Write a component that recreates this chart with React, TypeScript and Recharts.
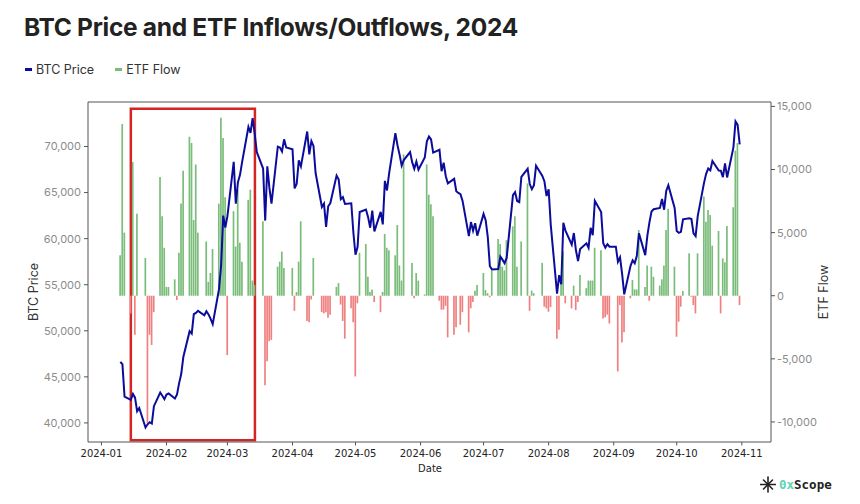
import React from 'react';
import {
  ComposedChart,
  Bar,
  Line,
  XAxis,
  YAxis,
  Cell,
  ReferenceArea,
  ReferenceLine,
} from 'recharts';

// each row: [day of month, BTC close, ETF net flow]
type Row = [number, number, number];

const jan: Row[] = [
  [10, 46630, 3200], [11, 46370, 13600], [12, 42850, 5000],
  [15, 42510, -1400], [16, 43150, 10600], [17, 42740, -3100], [18, 41260, 6500], [19, 41620, 0],
  [22, 39510, 3000], [23, 39850, -10100], [24, 40080, -3100], [25, 39930, -3900], [26, 41820, -1300],
  [29, 43300, 9400], [30, 42950, 6300], [31, 42580, 3800],
];
const feb: Row[] = [
  [1, 43080, 700], [2, 43190, 700],
  [5, 42660, 1300], [6, 43090, -340], [7, 44320, 3400], [8, 45300, 7300], [9, 47150, 9900],
  [12, 49960, 12600], [13, 49700, 12100], [14, 51810, 6000], [15, 51940, 10400], [16, 52160, 5000],
  [19, 51680, 0], [20, 52120, 4300], [21, 51780, 1100], [22, 51300, 1800], [23, 50730, 3700],
  [26, 54520, 7300], [27, 57090, 14100], [28, 62500, 12500], [29, 61200, 7800],
];
const mar: Row[] = [
  [1, 62440, -4700],
  [4, 68330, 6700], [5, 63800, 3900], [6, 66110, 8400], [7, 66930, 4200], [8, 68300, 2700],
  [11, 72120, 7600], [12, 71480, 8400], [13, 73080, 1200], [14, 71400, 850], [15, 69400, 0],
  [18, 67610, 5900], [19, 61960, -7100], [20, 67850, -5200], [21, 65500, -3600], [22, 63800, -3500],
  [25, 69990, 2300], [26, 69900, 2700], [27, 69460, 3500], [28, 70780, 2200], [29, 69890, 0],
];
const apr: Row[] = [
  [1, 69700, 2200], [2, 65460, -1200], [3, 65960, 300], [4, 68500, 2700], [5, 67840, 5900],
  [8, 71630, -2000], [9, 69140, -2100], [10, 70590, -300], [11, 70060, 3000], [12, 67120, 0],
  [15, 63430, -1300], [16, 63810, -1400], [17, 61280, -1300], [18, 63510, -1750], [19, 63840, -1500],
  [22, 66840, 700], [23, 66410, 1000], [24, 64280, -700], [25, 64500, -2000], [26, 63770, -3400],
  [29, 63840, -1000], [30, 60640, -2100],
];
const may: Row[] = [
  [1, 58250, -6400], [2, 59120, -600], [3, 62890, 3400],
  [6, 63160, 4100], [7, 62330, 1500], [8, 61190, 300], [9, 63050, 500], [10, 60790, -500],
  [13, 62900, -1300], [14, 61550, 300], [15, 66270, 4900], [16, 65230, 3800], [17, 67050, 3600],
  [20, 71450, 3200], [21, 70140, 5600], [22, 69120, 2400], [23, 67930, 1200], [24, 68530, 11200],
  [27, 69390, 0], [28, 68300, 2600], [29, 67580, -200], [30, 68360, 1800], [31, 67490, 1200],
];
const jun: Row[] = [
  [3, 68800, 100], [4, 70570, 10400], [5, 71080, 8000], [6, 70760, 7250], [7, 69340, 6300],
  [10, 69650, -400], [11, 67320, -1100], [12, 68240, -1100], [13, 66770, -800], [14, 66010, -3300],
  [17, 66490, -3100], [18, 65140, -2500], [19, 64960, 0], [20, 64830, -2300], [21, 64100, -1300],
  [24, 60280, -2900], [25, 61800, -1000], [26, 60860, -500], [27, 61670, 400], [28, 60320, 850],
];
const jul: Row[] = [
  [1, 62680, 1800], [2, 62000, 450], [3, 60200, 200], [4, 57000, -130], [5, 56660, 2000],
  [8, 56700, 4500], [9, 58050, 4100], [10, 57720, 2300], [11, 57340, 2000], [12, 57900, 4400],
  [15, 64720, 5500], [16, 65040, 6300], [17, 64090, 2300], [18, 63970, 0], [19, 66710, 4300],
  [22, 67580, 8900], [23, 65930, -1200], [24, 65370, 400], [25, 65800, 200], [26, 67910, 0],
  [29, 66810, 2600], [30, 66200, -870], [31, 64620, -1000],
];
const aug: Row[] = [
  [1, 65360, -1270], [2, 61500, -900],
  [5, 54020, -3400], [6, 56030, -2700], [7, 55030, 850], [8, 61710, 3500], [9, 60880, -600],
  [12, 59350, -1000], [13, 60610, 800], [14, 58740, -1140], [15, 57560, -500], [16, 58870, 1640],
  [19, 59490, 600], [20, 59010, 1200], [21, 61180, 1200], [22, 60380, 1200], [23, 64100, 3800],
  [26, 62880, 3600], [27, 59500, -1800], [28, 59030, -1700], [29, 59390, -1500], [30, 59120, -2200],
];
const sep: Row[] = [
  [2, 59130, 0], [3, 57480, -6000], [4, 57970, -750], [5, 56160, -3700], [6, 53950, -2900],
  [9, 57050, -200], [10, 57650, 1240], [11, 57340, 500], [12, 58130, 500], [13, 60570, 5200],
  [16, 58210, 700], [17, 60310, 2400], [18, 61760, -400], [19, 62950, 2300], [20, 63190, 1500],
  [23, 63330, 800], [24, 64300, 1300], [25, 63140, 2400], [26, 65180, 5200], [27, 65790, 6900],
  [30, 63330, 2300],
];
const oct: Row[] = [
  [1, 60840, -3250], [2, 60630, -2060], [3, 60750, -870], [4, 62090, 370],
  [7, 62220, 3360], [8, 62130, -80], [9, 60580, -740], [10, 60270, -1400], [11, 62450, 3360],
  [14, 66050, 7860], [15, 67040, 5870], [16, 67610, 6800], [17, 67400, 6400], [18, 68420, 3970],
  [21, 67380, 5130], [22, 67370, -1400], [23, 66680, 2960], [24, 68160, 2650], [25, 66640, 5530],
  [28, 69910, 7010], [29, 72720, 11500], [30, 72340, 12100], [31, 70220, -740],
];

const months = [jan, feb, mar, apr, may, jun, jul, aug, sep, oct];

const monthTicks = [0, 31, 60, 91, 121, 152, 182, 213, 244, 274, 305];
const monthLabels = [
  '2024-01', '2024-02', '2024-03', '2024-04', '2024-05', '2024-06',
  '2024-07', '2024-08', '2024-09', '2024-10', '2024-11',
];
const priceTicks = [40000, 45000, 50000, 55000, 60000, 65000, 70000];
const flowTicks = [-10000, -5000, 0, 5000, 10000, 15000];

// highlighted window (Jan 15 – Mar 14)
const boxStart: [number, number] = [0, 15];
const boxEnd: [number, number] = [2, 14];
const boxPrice = [38120, 74100];

const PRICE_DOMAIN = [37930, 74830];
const FLOW_DOMAIN = [-11590, 15350];
const X_DOMAIN = [-6.4, 318.9];

const DAY = 86400000;
const dayIndex = (m: number, d: number) => (Date.UTC(2024, m, d) - Date.UTC(2024, 0, 1)) / DAY;

const data = months.flatMap((rows, m) =>
  rows.map(([d, price, flow]) => ({ x: dayIndex(m, d), price, flow }))
);

const GREEN = '#7abd7a';
const RED = '#f08080';
const BLUE = '#0c0c9c';
const AXIS = '#555';
const SANS = 'Inter, "Open Sans", sans-serif';

const fmt = (v: number) => v.toLocaleString('en-US');

export default function App() {
  return (
    <div
      style={{
        position: 'absolute',
        left: 0,
        top: 0,
        width: 860,
        height: 504,
        background: '#fff',
        fontFamily: SANS,
        overflow: 'hidden',
      }}
    >
      <div
        style={{
          position: 'absolute',
          left: 24,
          top: 12,
          fontSize: 24.5,
          fontWeight: 700,
          color: '#222',
          letterSpacing: -0.3,
          whiteSpace: 'nowrap',
        }}
      >
        BTC Price and ETF Inflows/Outflows, 2024
      </div>

      <div
        style={{
          position: 'absolute',
          left: 25,
          top: 62,
          display: 'flex',
          alignItems: 'center',
          fontSize: 12.5,
          color: '#333',
        }}
      >
        <span style={{ width: 7, height: 3, background: BLUE, marginRight: 4 }} />
        <span>BTC Price</span>
        <span style={{ width: 7, height: 3, background: GREEN, marginLeft: 21, marginRight: 4 }} />
        <span>ETF Flow</span>
      </div>

      <div
        style={{
          position: 'absolute',
          left: 33,
          top: 292,
          transform: 'translate(-50%, -50%) rotate(-90deg)',
          fontSize: 12.5,
          color: '#333',
          whiteSpace: 'nowrap',
        }}
      >
        BTC Price
      </div>
      <div
        style={{
          position: 'absolute',
          left: 823,
          top: 292,
          transform: 'translate(-50%, -50%) rotate(-90deg)',
          fontSize: 12.5,
          color: '#333',
          whiteSpace: 'nowrap',
        }}
      >
        ETF Flow
      </div>
      <div
        style={{
          position: 'absolute',
          left: 430,
          top: 468,
          transform: 'translate(-50%, -50%)',
          fontSize: 10,
          fontFamily: '"DejaVu Sans", sans-serif',
          color: '#222',
        }}
      >
        Date
      </div>

      <ComposedChart
        width={860}
        height={504}
        data={data}
        margin={{ top: 102, right: 29, bottom: 32, left: 30 }}
      >
        <XAxis
          type="number"
          dataKey="x"
          domain={X_DOMAIN}
          allowDataOverflow
          ticks={monthTicks}
          interval={0}
          tickFormatter={(v) => monthLabels[monthTicks.indexOf(v)]}
          height={30}
          tickSize={3.5}
          tickMargin={4.5}
          tick={{ fill: '#222', fontSize: 10, fontFamily: '"DejaVu Sans", sans-serif' }}
          tickLine={{ stroke: AXIS }}
          axisLine={{ stroke: AXIS }}
        />
        <YAxis
          yAxisId="left"
          domain={PRICE_DOMAIN}
          allowDataOverflow
          ticks={priceTicks}
          interval={0}
          tickFormatter={fmt}
          width={58}
          tickSize={4}
          tickMargin={3}
          tick={{ fill: '#8c8c8c', fontSize: 11, fontFamily: SANS }}
          tickLine={{ stroke: AXIS }}
          axisLine={{ stroke: AXIS }}
        />
        <YAxis
          yAxisId="right"
          orientation="right"
          domain={FLOW_DOMAIN}
          allowDataOverflow
          ticks={flowTicks}
          interval={0}
          tickFormatter={fmt}
          width={60}
          tickSize={4}
          tickMargin={2}
          tick={{ fill: '#8c8c8c', fontSize: 11, fontFamily: SANS }}
          tickLine={{ stroke: AXIS }}
          axisLine={{ stroke: AXIS }}
        />
        {/* top edge of the axes frame */}
        <ReferenceLine yAxisId="left" y={PRICE_DOMAIN[1]} stroke={AXIS} ifOverflow="visible" />
        <Bar yAxisId="right" dataKey="flow" barSize={1.7} isAnimationActive={false}>
          {data.map((entry, index) => (
            <Cell key={`flow-${index}`} fill={entry.flow >= 0 ? GREEN : RED} />
          ))}
        </Bar>
        <Line
          yAxisId="left"
          type="linear"
          dataKey="price"
          stroke={BLUE}
          strokeWidth={2}
          dot={false}
          isAnimationActive={false}
        />
        <ReferenceArea
          yAxisId="left"
          x1={dayIndex(...boxStart)}
          x2={dayIndex(...boxEnd) + 0.1}
          y1={boxPrice[0]}
          y2={boxPrice[1]}
          fill="none"
          stroke="#d42424"
          strokeWidth={2.5}
          ifOverflow="visible"
        />
      </ComposedChart>

      <div
        style={{
          position: 'absolute',
          left: 760,
          top: 476,
          display: 'flex',
          alignItems: 'center',
          fontFamily: '"DejaVu Sans Mono", monospace',
          fontWeight: 700,
          fontSize: 12.5,
        }}
      >
        <svg width={16} height={17} viewBox="0 0 16 17" style={{ marginRight: 3 }}>
          <g stroke="#222" strokeWidth={1.6} strokeLinecap="round">
            <line x1={8} y1={1} x2={8} y2={16} />
            <line x1={0.5} y1={8.5} x2={15.5} y2={8.5} />
            <line x1={3.5} y1={4} x2={12.5} y2={13} />
            <line x1={12.5} y1={4} x2={3.5} y2={13} />
          </g>
        </svg>
        <span style={{ color: '#5fd3b4' }}>0x</span>
        <span style={{ color: '#222' }}>Scope</span>
      </div>
    </div>
  );
}
